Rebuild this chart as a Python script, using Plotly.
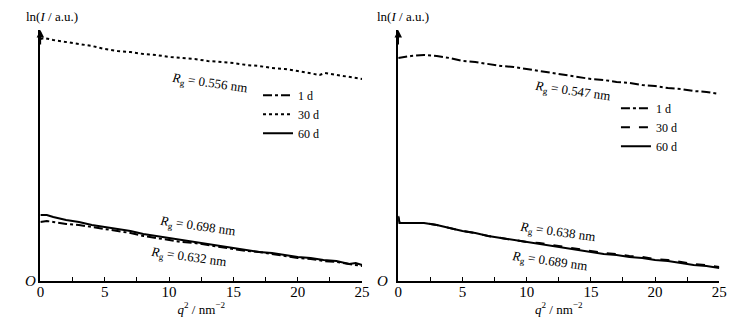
import plotly.graph_objects as go

# ---------------- data ----------------
# Left panel
L30_x = [0, 0.3, 1, 2, 3, 4, 5, 6, 7, 8, 9, 10, 11, 12, 13, 14, 15, 16, 17, 18, 19, 20, 21, 21.7, 22.1, 23, 24, 25]
L30_y = [24.2, 24.3, 24.1, 23.9, 23.7, 23.5, 23.2, 23.0, 22.9, 22.7, 22.6, 22.4, 22.3, 22.2, 22.0, 21.9, 21.8, 21.6, 21.5, 21.3, 21.2, 21.0, 20.8, 20.6, 20.8, 20.6, 20.4, 20.2]

L60_x = [0, 0.5, 1, 2, 3, 4, 5, 6, 7, 8, 9, 10, 11, 12, 13, 14, 15, 16, 17, 18, 19, 20, 21, 22, 23, 24, 24.5, 25]
L60_y = [6.6, 6.6, 6.4, 6.1, 5.9, 5.6, 5.4, 5.2, 5.0, 4.7, 4.5, 4.3, 4.1, 3.9, 3.7, 3.5, 3.3, 3.1, 2.9, 2.8, 2.6, 2.4, 2.3, 2.1, 2.0, 1.7, 1.8, 1.6]

L1_x = [0, 0.5, 1, 2, 3, 4, 5, 6, 7, 8, 9, 10, 11, 12, 13, 14, 15, 16, 17, 18, 19, 20, 21, 22, 23, 24, 25]
L1_y = [5.9, 6.0, 5.9, 5.7, 5.6, 5.4, 5.2, 5.0, 4.8, 4.5, 4.3, 4.1, 3.9, 3.8, 3.6, 3.4, 3.2, 3.0, 2.9, 2.7, 2.5, 2.3, 2.2, 2.0, 1.9, 1.7, 1.5]

# Right panel
R1_x = [0, 1, 2, 3, 4, 5, 6, 7, 8, 9, 10, 11, 12, 13, 14, 15, 16, 17, 18, 19, 20, 21, 22, 23, 24, 25]
R1_y = [22.3, 22.5, 22.6, 22.5, 22.3, 22.0, 21.9, 21.7, 21.5, 21.4, 21.2, 21.0, 20.8, 20.6, 20.4, 20.2, 20.1, 19.9, 19.8, 19.6, 19.5, 19.3, 19.2, 19.0, 18.9, 18.7]

R30_x = [0, 0.1, 1, 2, 3, 4, 5, 6, 7, 8, 9, 10, 11, 12, 13, 14, 15, 16, 17, 18, 19, 20, 21, 22, 23, 24, 25]
R30_y = [6.4, 5.8, 5.8, 5.8, 5.6, 5.3, 5.0, 4.8, 4.5, 4.3, 4.1, 3.9, 3.8, 3.6, 3.4, 3.2, 3.0, 2.8, 2.7, 2.5, 2.4, 2.2, 2.1, 1.9, 1.7, 1.6, 1.4]

R60_x = [0, 0.1, 1, 2, 3, 4, 5, 6, 7, 8, 9, 10, 11, 12, 13, 14, 15, 16, 17, 18, 19, 20, 21, 22, 23, 24, 25]
R60_y = [6.5, 5.8, 5.8, 5.8, 5.6, 5.3, 5.0, 4.8, 4.5, 4.3, 4.1, 3.9, 3.7, 3.5, 3.3, 3.1, 2.9, 2.7, 2.6, 2.4, 2.3, 2.1, 2.0, 1.8, 1.6, 1.5, 1.3]

series_names = ["1 d", "30 d", "60 d"]

rg_left = [("0.556", 13.1, 19.7), ("0.698", 12.15, 5.4), ("0.632", 11.5, 2.3)]
rg_right = [("0.547", 13.5, 18.9), ("0.638", 12.4, 4.8), ("0.689", 11.7, 1.9)]

FONT = "Liberation Serif"

fig = go.Figure()

# Left traces
fig.add_trace(go.Scatter(x=L1_x, y=L1_y, mode="lines", name=series_names[0],
                         line=dict(color="black", width=2, dash="dashdot"),
                         xaxis="x", yaxis="y", legend="legend"))
fig.add_trace(go.Scatter(x=L30_x, y=L30_y, mode="lines", name=series_names[1],
                         line=dict(color="black", width=2, dash="dot"),
                         xaxis="x", yaxis="y", legend="legend"))
fig.add_trace(go.Scatter(x=L60_x, y=L60_y, mode="lines", name=series_names[2],
                         line=dict(color="black", width=2),
                         xaxis="x", yaxis="y", legend="legend"))

# Right traces
fig.add_trace(go.Scatter(x=R1_x, y=R1_y, mode="lines", name=series_names[0],
                         line=dict(color="black", width=2, dash="dashdot"),
                         xaxis="x2", yaxis="y2", legend="legend2"))
fig.add_trace(go.Scatter(x=R30_x, y=R30_y, mode="lines", name=series_names[1],
                         line=dict(color="black", width=2, dash="dash"),
                         xaxis="x2", yaxis="y2", legend="legend2"))
fig.add_trace(go.Scatter(x=R60_x, y=R60_y, mode="lines", name=series_names[2],
                         line=dict(color="black", width=2),
                         xaxis="x2", yaxis="y2", legend="legend2"))

xaxis_common = dict(range=[0, 25], showgrid=False, zeroline=False, showline=True,
                    linecolor="black", linewidth=1.5, ticks="inside", ticklen=4,
                    tickcolor="black", tick0=0, dtick=5, ticklabelstandoff=-4,
                    minor=dict(dtick=2.5, ticks="inside", ticklen=4, tickcolor="black", showgrid=False),
                    tickfont=dict(family=FONT, size=15, color="black"),
                    title=dict(text="<i>q</i><sup>2</sup> / nm<sup>\u22122</sup>",
                               font=dict(family=FONT, size=13, color="black"),
                               standoff=6))
yaxis_common = dict(range=[0, 25.1], showgrid=False, zeroline=False, showline=True,
                    linecolor="black", linewidth=1.5, showticklabels=False, ticks="",
                    domain=[0.1485, 0.9091])

annotations = []
for lab, xx, yy in rg_left:
    annotations.append(dict(x=xx, y=yy, xref="x", yref="y", showarrow=False, textangle=8,
                            text="<i>R</i><sub>g</sub> = " + lab + " nm",
                            font=dict(family=FONT, size=13, color="black")))
for lab, xx, yy in rg_right:
    annotations.append(dict(x=xx, y=yy, xref="x2", yref="y2", showarrow=False, textangle=8,
                            text="<i>R</i><sub>g</sub> = " + lab + " nm",
                            font=dict(family=FONT, size=13, color="black")))

for xr, yr, px_lab, px_o in [("x", "y", 0.066, 0.036), ("x2", "y2", 0.545, 0.517)]:
    # axis arrow
    annotations.append(dict(x=0, y=25.1, ax=0, ay=23.5, xref=xr, yref=yr, axref=xr, ayref=yr,
                            text="", showarrow=True, arrowhead=2, arrowsize=1, arrowwidth=1.5,
                            arrowcolor="black"))
    annotations.append(dict(x=px_lab, y=0.95, xref="paper", yref="paper", showarrow=False,
                            text="ln(<i>I</i> / a.u.)", xanchor="center", yanchor="middle",
                            font=dict(family=FONT, size=13, color="black")))
    annotations.append(dict(x=px_o, y=0.148, xref="paper", yref="paper", showarrow=False,
                            text="<i>O</i>", xanchor="center", yanchor="middle",
                            font=dict(family=FONT, size=15, color="black")))

legend_common = dict(font=dict(family=FONT, size=12, color="black"), bgcolor="rgba(0,0,0,0)",
                     borderwidth=0, tracegroupgap=0, itemwidth=30, xanchor="left", yanchor="top")

fig.update_layout(
    width=744, height=330,
    margin=dict(l=0, r=0, t=0, b=0),
    paper_bgcolor="white", plot_bgcolor="white",
    xaxis=dict(domain=[0.0497, 0.4892], anchor="y", **xaxis_common),
    yaxis=dict(anchor="x", **yaxis_common),
    xaxis2=dict(domain=[0.5386, 0.9772], anchor="y2", **xaxis_common),
    yaxis2=dict(anchor="x2", **yaxis_common),
    legend=dict(x=0.347, y=0.755, **legend_common),
    legend2=dict(x=0.836, y=0.716, **legend_common),
    showlegend=True,
    annotations=annotations,
)

fig.write_html("out.html", config={"displayModeBar": False},
               post_script="document.body.style.margin='0';document.body.style.padding='0';")
